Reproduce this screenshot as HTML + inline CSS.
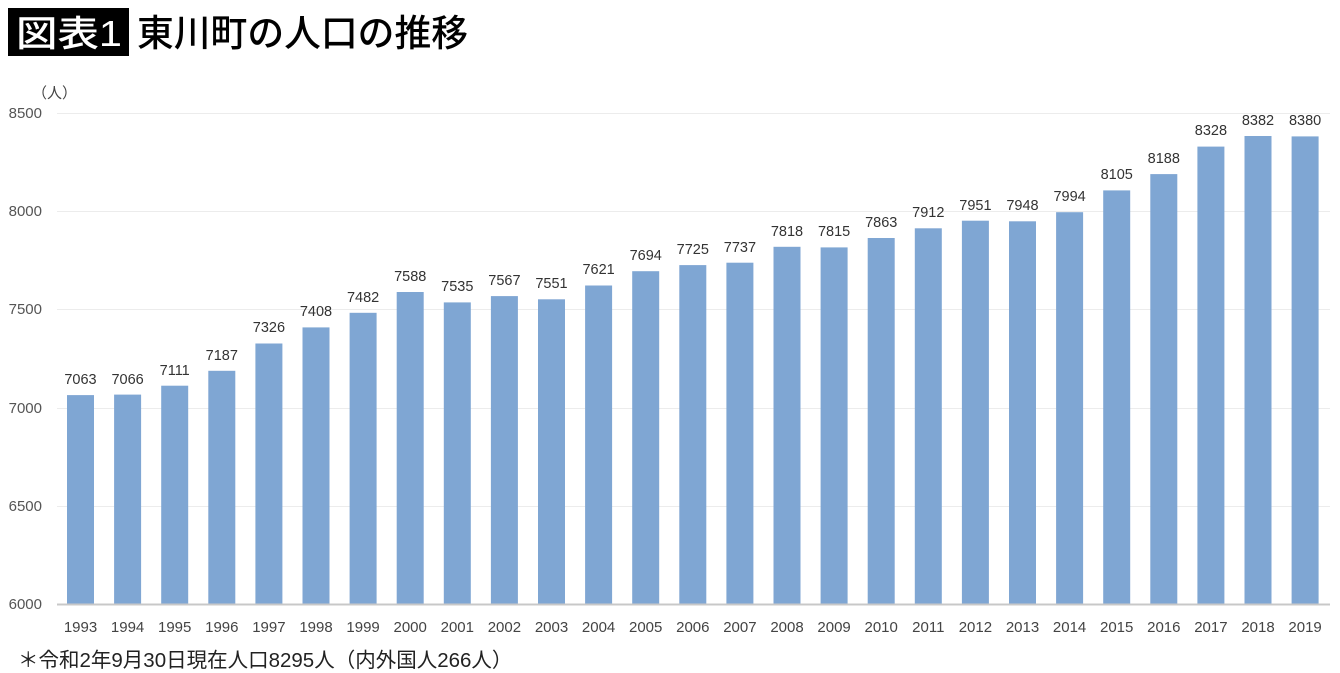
<!DOCTYPE html>
<html><head><meta charset="utf-8"><style>
html,body{margin:0;padding:0;background:#fff;width:1340px;height:673px;overflow:hidden}
</style></head><body>
<svg width="1340" height="673" viewBox="0 0 1340 673" xmlns="http://www.w3.org/2000/svg" font-family="'Liberation Sans','Noto Sans CJK JP',sans-serif">
<rect x="8" y="8" width="121" height="48" fill="#000"/>
<text x="16" y="46" font-size="36" font-weight="500" fill="#fff" textLength="106" lengthAdjust="spacingAndGlyphs">図表1</text>
<text x="137" y="46" font-size="37" font-weight="500" fill="#000" textLength="331" lengthAdjust="spacingAndGlyphs">東川町の人口の推移</text>
<text x="32" y="98" font-size="15" fill="#444">（人）</text>
<g stroke="#ececec" stroke-width="1">
<line x1="57" y1="113.5" x2="1330" y2="113.5"/>
<line x1="57" y1="211.5" x2="1330" y2="211.5"/>
<line x1="57" y1="309.5" x2="1330" y2="309.5"/>
<line x1="57" y1="408.5" x2="1330" y2="408.5"/>
<line x1="57" y1="506.5" x2="1330" y2="506.5"/>
</g>
<g font-size="15" fill="#555" text-anchor="end">
<text x="42" y="118">8500</text>
<text x="42" y="216">8000</text>
<text x="42" y="314">7500</text>
<text x="42" y="413">7000</text>
<text x="42" y="511">6500</text>
<text x="42" y="609">6000</text>
</g>
<g fill="#7fa6d3">
<rect x="67" y="395.1" width="27" height="208.9"/>
<rect x="114.1" y="394.6" width="27" height="209.4"/>
<rect x="161.2" y="385.7" width="27" height="218.3"/>
<rect x="208.3" y="370.8" width="27" height="233.2"/>
<rect x="255.4" y="343.5" width="27" height="260.5"/>
<rect x="302.5" y="327.4" width="27" height="276.6"/>
<rect x="349.6" y="312.8" width="27" height="291.2"/>
<rect x="396.7" y="292" width="27" height="312"/>
<rect x="443.8" y="302.4" width="27" height="301.6"/>
<rect x="490.9" y="296.1" width="27" height="307.9"/>
<rect x="538" y="299.3" width="27" height="304.7"/>
<rect x="585.1" y="285.5" width="27" height="318.5"/>
<rect x="632.2" y="271.2" width="27" height="332.8"/>
<rect x="679.3" y="265.1" width="27" height="338.9"/>
<rect x="726.4" y="262.7" width="27" height="341.3"/>
<rect x="773.5" y="246.8" width="27" height="357.2"/>
<rect x="820.6" y="247.4" width="27" height="356.6"/>
<rect x="867.7" y="238" width="27" height="366"/>
<rect x="914.8" y="228.3" width="27" height="375.7"/>
<rect x="961.9" y="220.7" width="27" height="383.3"/>
<rect x="1009" y="221.3" width="27" height="382.7"/>
<rect x="1056.1" y="212.2" width="27" height="391.8"/>
<rect x="1103.2" y="190.4" width="27" height="413.6"/>
<rect x="1150.3" y="174.1" width="27" height="429.9"/>
<rect x="1197.4" y="146.6" width="27" height="457.4"/>
<rect x="1244.5" y="136" width="27" height="468"/>
<rect x="1291.6" y="136.4" width="27" height="467.6"/>
</g>
<line x1="57" y1="604.5" x2="1330" y2="604.5" stroke="#c8c8c8" stroke-width="2"/>
<g font-size="14.5" fill="#333" text-anchor="middle">
<text x="80.5" y="384">7063</text>
<text x="127.6" y="384">7066</text>
<text x="174.7" y="375">7111</text>
<text x="221.8" y="360">7187</text>
<text x="268.9" y="332">7326</text>
<text x="316" y="316">7408</text>
<text x="363.1" y="302">7482</text>
<text x="410.2" y="281">7588</text>
<text x="457.3" y="291">7535</text>
<text x="504.4" y="285">7567</text>
<text x="551.5" y="288">7551</text>
<text x="598.6" y="274">7621</text>
<text x="645.7" y="260">7694</text>
<text x="692.8" y="254">7725</text>
<text x="739.9" y="252">7737</text>
<text x="787" y="236">7818</text>
<text x="834.1" y="236">7815</text>
<text x="881.2" y="227">7863</text>
<text x="928.3" y="217">7912</text>
<text x="975.4" y="210">7951</text>
<text x="1022.5" y="210">7948</text>
<text x="1069.6" y="201">7994</text>
<text x="1116.7" y="179">8105</text>
<text x="1163.8" y="163">8188</text>
<text x="1210.9" y="135">8328</text>
<text x="1258" y="125">8382</text>
<text x="1305.1" y="125">8380</text>
</g>
<g font-size="15" fill="#444" text-anchor="middle">
<text x="80.5" y="632">1993</text><text x="127.6" y="632">1994</text><text x="174.7" y="632">1995</text><text x="221.8" y="632">1996</text><text x="268.9" y="632">1997</text><text x="316" y="632">1998</text><text x="363.1" y="632">1999</text><text x="410.2" y="632">2000</text><text x="457.3" y="632">2001</text><text x="504.4" y="632">2002</text><text x="551.5" y="632">2003</text><text x="598.6" y="632">2004</text><text x="645.7" y="632">2005</text><text x="692.8" y="632">2006</text><text x="739.9" y="632">2007</text><text x="787" y="632">2008</text><text x="834.1" y="632">2009</text><text x="881.2" y="632">2010</text><text x="928.3" y="632">2011</text><text x="975.4" y="632">2012</text><text x="1022.5" y="632">2013</text><text x="1069.6" y="632">2014</text><text x="1116.7" y="632">2015</text><text x="1163.8" y="632">2016</text><text x="1210.9" y="632">2017</text><text x="1258" y="632">2018</text><text x="1305.1" y="632">2019</text>
</g>
<text x="18" y="667" font-size="20.5" fill="#222">＊令和2年9月30日現在人口8295人（内外国人266人）</text>
</svg>
</body></html>
